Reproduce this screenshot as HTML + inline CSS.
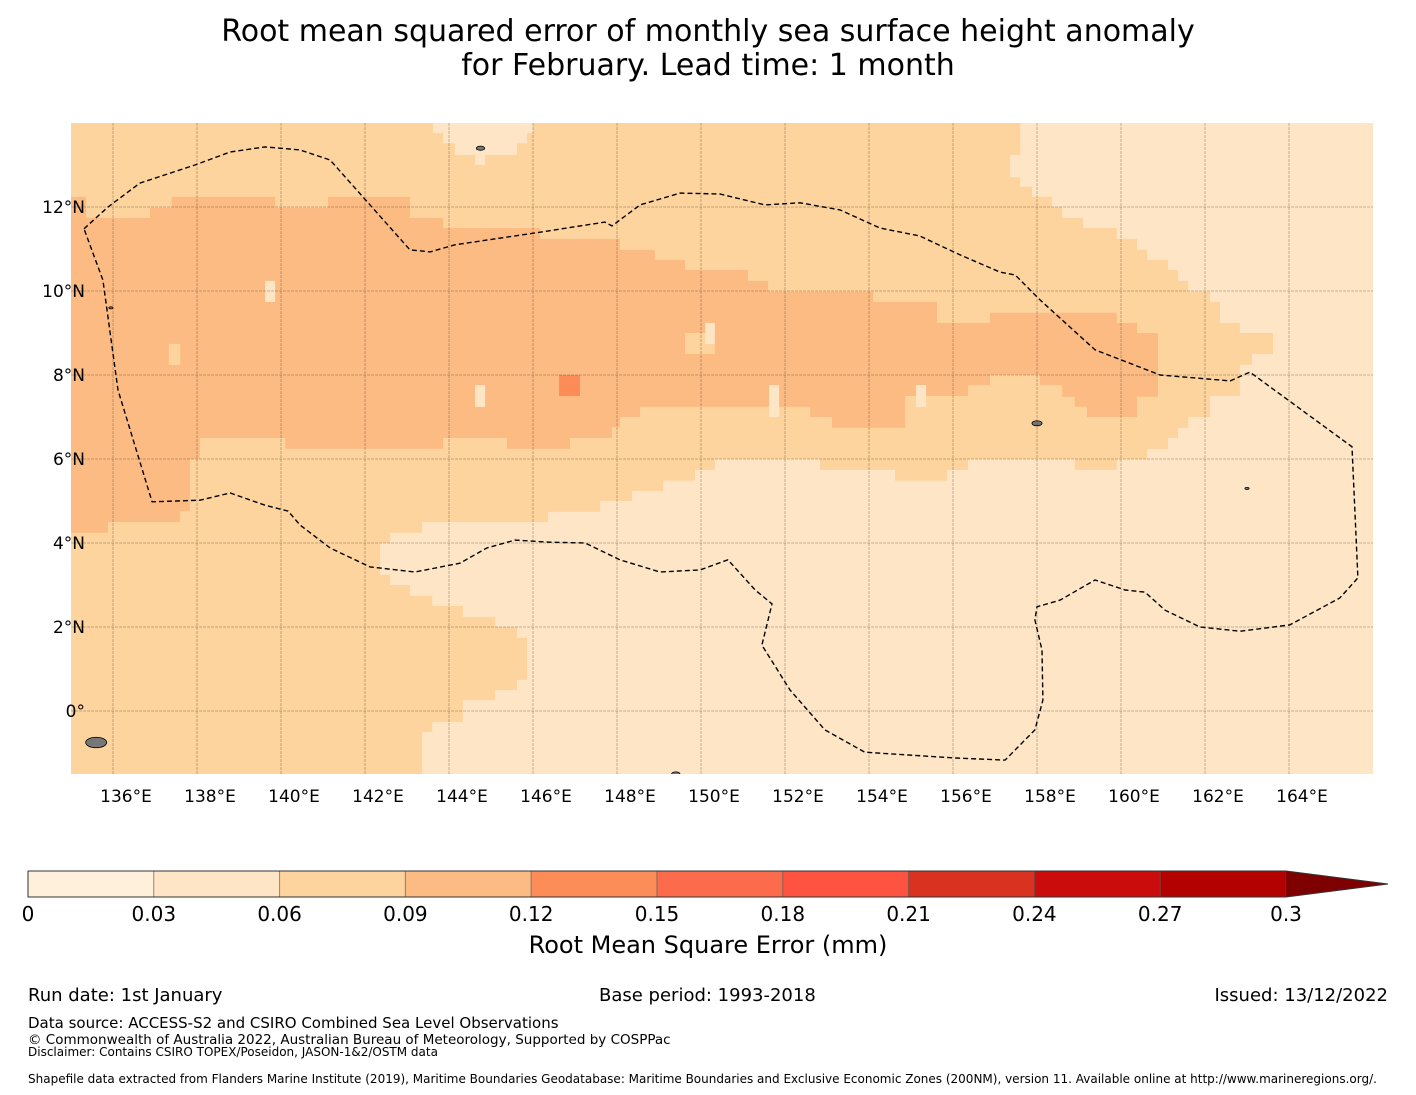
<!DOCTYPE html>
<html><head><meta charset="utf-8">
<style>
body{margin:0;background:#fff;font-family:"Liberation Sans","DejaVu Sans",sans-serif;}
#wrap{position:relative;width:1416px;height:1095px;overflow:hidden;}
.t{position:absolute;white-space:nowrap;color:#000;}
</style></head><body>
<div id="wrap">
<div class="t" style="left:0;width:1416px;text-align:center;top:15px;font-size:30px;line-height:34px;font-family:'DejaVu Sans',sans-serif;">Root mean squared error of monthly sea surface height anomaly<br>for February. Lead time: 1 month</div>
<svg id="map" width="1416" height="1095" style="position:absolute;left:0;top:0" xmlns="http://www.w3.org/2000/svg"></svg>
<div class="t" style="left:0;width:1416px;text-align:center;top:931px;font-size:24px;font-family:'DejaVu Sans',sans-serif;">Root Mean Square Error (mm)</div>
<div class="t" style="left:28px;top:985px;font-size:18px;font-family:'DejaVu Sans',sans-serif;">Run date: 1st January</div>
<div class="t" style="left:599px;top:985px;font-size:18px;font-family:'DejaVu Sans',sans-serif;">Base period: 1993-2018</div>
<div class="t" style="right:28px;top:985px;font-size:18px;font-family:'DejaVu Sans',sans-serif;">Issued: 13/12/2022</div>
<div class="t" style="left:28px;top:1014px;font-size:15px;font-family:'DejaVu Sans',sans-serif;">Data source: ACCESS-S2 and CSIRO Combined Sea Level Observations</div>
<div class="t" style="left:28px;top:1032px;font-size:13.5px;font-family:'DejaVu Sans',sans-serif;">© Commonwealth of Australia 2022, Australian Bureau of Meteorology, Supported by COSPPac</div>
<div class="t" style="left:28px;top:1045px;font-size:12px;font-family:'DejaVu Sans',sans-serif;">Disclaimer: Contains CSIRO TOPEX/Poseidon, JASON-1&amp;2/OSTM data</div>
<div class="t" style="left:28px;top:1072px;font-size:12px;font-family:'DejaVu Sans',sans-serif;">Shapefile data extracted from Flanders Marine Institute (2019), Maritime Boundaries Geodatabase: Maritime Boundaries and Exclusive Economic Zones (200NM), version 11. Available online at http://www.marineregions.org/.</div>
</div>
<script>
const binEdges=[0,0.03,0.06,0.09,0.12,0.15,0.18,0.21,0.24,0.27,0.3];
const binColors=['#fff0dc','#fee5c6','#fdd49e','#fdbb84','#fc8d59','#fc6b4c','#fe5340','#d93220','#cb0c0c','#b30000'];
const overColor='#7f0000';
const lonTicks=[136,138,140,142,144,146,148,150,152,154,156,158,160,162,164];
const latTicks=[12,10,8,6,4,2,0];
const latLabels=['12°N','10°N','8°N','6°N','4°N','2°N','0°'];
const backgroundValue=0.075;
const lightZone=[[157.6,14],[157.6,13.24],[157.36,13.24],[157.36,12.71],[157.6,12.71],[157.6,12.48],[157.88,12.48],[157.88,12.24],[158.36,12.24],[158.36,12],[158.6,12],[158.6,11.74],[159.1,11.74],[159.1,11.5],[159.9,11.5],[159.9,11.24],[160.38,11.24],[160.38,10.98],[160.62,10.98],[160.62,10.74],[161.12,10.74],[161.12,10.5],[161.36,10.5],[161.36,10.24],[161.6,10.24],[161.6,9.98],[162.12,9.98],[162.12,9.74],[162.36,9.74],[162.36,9.24],[162.83,9.24],[162.83,9],[163.62,9],[163.62,8.5],[163.12,8.5],[163.12,8.24],[162.83,8.24],[162.83,7.5],[162.12,7.5],[162.12,7],[161.6,7],[161.6,6.74],[161.36,6.74],[161.36,6.5],[161.12,6.5],[161.12,6.24],[160.62,6.24],[160.62,6],[159.9,6],[159.9,5.74],[158.9,5.74],[158.9,6],[156.36,6],[156.36,5.74],[155.86,5.74],[155.86,5.48],[154.62,5.48],[154.62,5.74],[152.83,5.74],[152.83,6],[150.33,6],[150.33,5.74],[149.86,5.74],[149.86,5.48],[149.1,5.48],[149.1,5.24],[148.36,5.24],[148.36,5],[147.6,5],[147.6,4.74],[146.36,4.74],[146.36,4.5],[143.36,4.5],[143.36,4.24],[142.6,4.24],[142.6,4],[142.36,4],[142.36,3.24],[142.6,3.24],[142.6,3],[143.07,3],[143.07,2.74],[143.6,2.74],[143.6,2.5],[144.33,2.5],[144.33,2.24],[145.1,2.24],[145.1,2],[145.62,2],[145.62,1.74],[145.86,1.74],[145.86,0.74],[145.62,0.74],[145.62,0.5],[145.1,0.5],[145.1,0.26],[144.33,0.26],[144.33,-0.26],[143.6,-0.26],[143.6,-0.5],[143.36,-0.5],[143.36,-1.5],[166,-1.5],[166,14]];
const lightZoneValue=0.045;
const topPatch=[[143.62,14],[146,14],[146,13.76],[145.86,13.76],[145.86,13.52],[145.62,13.52],[145.62,13.24],[144.86,13.24],[144.86,13],[144.62,13],[144.62,13.24],[144.14,13.24],[144.14,13.52],[143.86,13.52],[143.86,13.76],[143.62,13.76]];
const topPatchValue=0.045;
const darkZone=[[135,12.24],[135.36,12.24],[135.36,11.74],[136.88,11.74],[136.88,11.98],[137.4,11.98],[137.4,12.24],[139.86,12.24],[139.86,11.98],[141.12,11.98],[141.12,12.24],[143.07,12.24],[143.07,11.74],[143.86,11.74],[143.86,11.5],[146.17,11.5],[146.17,11.24],[148.07,11.24],[148.07,10.98],[148.9,10.98],[148.9,10.74],[149.62,10.74],[149.62,10.5],[151.12,10.5],[151.12,10.24],[151.6,10.24],[151.6,9.98],[154.1,9.98],[154.1,9.74],[155.62,9.74],[155.62,9.24],[156.88,9.24],[156.88,9.48],[159.9,9.48],[159.9,9.24],[160.38,9.24],[160.38,9],[160.88,9],[160.88,7.48],[160.38,7.48],[160.38,7],[159.19,7],[159.19,7.24],[158.9,7.24],[158.9,7.48],[158.6,7.48],[158.6,7.76],[158.07,7.76],[158.07,8],[156.88,8],[156.88,7.76],[156.36,7.76],[156.36,7.5],[154.86,7.5],[154.86,6.74],[153.12,6.74],[153.12,7],[152.6,7],[152.6,7.24],[148.55,7.24],[148.55,7],[148.07,7],[148.07,6.76],[147.88,6.76],[147.88,6.5],[146.88,6.5],[146.88,6.24],[145.38,6.24],[145.38,6.5],[143.86,6.5],[143.86,6.24],[140.1,6.24],[140.1,6.5],[138.07,6.5],[138.07,6],[137.83,6],[137.83,4.76],[137.6,4.76],[137.6,4.5],[135.88,4.5],[135.88,4.24],[135,4.24]];
const darkZoneValue=0.105;
const cellLon=[149.62,150.1,137.33,139.62,144.62,151.62,155.12,146.62,162.12];
const cellLat=[9.0,9.24,8.74,10.24,7.76,7.76,7.76,8.0,11.74];
const cellW=[0.71,0.23,0.27,0.24,0.24,0.24,0.24,0.5,0.24];
const cellH=[0.5,0.5,0.5,0.5,0.52,0.76,0.52,0.5,0.4];
const cellVal=[0.075,0.045,0.075,0.045,0.045,0.045,0.045,0.13,0.045];
const eez=[[135.31,11.48],[135.88,12.0],[136.64,12.57],[137.95,13.0],[138.79,13.31],[139.62,13.43],[140.45,13.36],[141.17,13.12],[143.07,10.98],[143.55,10.93],[144.14,11.1],[146.17,11.4],[147.71,11.64],[147.88,11.55],[148.55,12.05],[149.5,12.33],[150.45,12.31],[151.52,12.05],[152.36,12.1],[153.31,11.93],[154.26,11.5],[155.21,11.31],[156.17,10.86],[157.12,10.45],[157.48,10.38],[158.07,9.79],[159.38,8.6],[160.93,8.0],[162.6,7.86],[163.07,8.07],[165.5,6.29],[165.64,3.17],[165.21,2.69],[164.02,2.05],[162.83,1.9],[161.88,2.0],[161.05,2.4],[160.57,2.83],[160.1,2.88],[159.38,3.12],[158.55,2.64],[158.0,2.48],[157.95,2.17],[158.12,1.45],[158.14,0.26],[157.95,-0.45],[157.24,-1.17],[156.05,-1.12],[153.9,-0.98],[152.95,-0.45],[152.12,0.5],[151.45,1.57],[151.69,2.55],[151.29,2.88],[150.64,3.6],[149.98,3.36],[149.02,3.31],[148.07,3.6],[147.24,4.0],[146.4,4.02],[145.57,4.07],[144.9,3.88],[144.26,3.52],[143.19,3.31],[142.12,3.43],[141.17,3.88],[140.45,4.43],[140.17,4.76],[139.62,4.9],[138.79,5.19],[138.07,5.02],[136.93,4.98],[136.12,7.64],[135.76,10.26]];
const islandLon=[135.6,144.75,158.0,149.4,135.95,163.0];
const islandLat=[-0.75,13.4,6.85,-1.5,9.6,5.3];
const islandR=[0.25,0.1,0.12,0.1,0.05,0.05];

const X0=71,X1=1373,Y0=123,Y1=774,LON0=135,LAT0=14,PX=42;
const xs=lon=>X0+(lon-LON0)*PX;
const ys=lat=>Y0+(LAT0-lat)*PX;
function colorFor(v){for(let i=0;i<binColors.length;i++){if(v<binEdges[i+1])return binColors[i];}return overColor;}
const NS='http://www.w3.org/2000/svg';
const svg=document.getElementById('map');
function mk(tag,attrs,parent){const e=document.createElementNS(NS,tag);for(const k in attrs)e.setAttribute(k,attrs[k]);(parent||svg).appendChild(e);return e;}
const pts=arr=>arr.map(p=>xs(p[0]).toFixed(1)+','+ys(p[1]).toFixed(1)).join(' ');

const defs=mk('defs',{});
const cp=mk('clipPath',{id:'clip'},defs);
mk('rect',{x:X0,y:Y0,width:X1-X0,height:Y1-Y0},cp);
const g=mk('g',{'clip-path':'url(#clip)'});



const bg=mk('rect',{x:X0,y:Y0,width:X1-X0,height:Y1-Y0,fill:colorFor(backgroundValue)},g);


const lz=mk('polygon',{points:pts(lightZone),fill:colorFor(lightZoneValue)},g);


const tp=mk('polygon',{points:pts(topPatch),fill:colorFor(topPatchValue)},g);


const dz=mk('polygon',{points:pts(darkZone),fill:colorFor(darkZoneValue)},g);


for(let i=0;i<cellLon.length;i++){
  const r=mk('rect',{x:xs(cellLon[i]),y:ys(cellLat[i]),width:cellW[i]*PX,height:cellH[i]*PX,fill:colorFor(cellVal[i])},g);
  
  
}
for(let i=0;i<islandLon.length;i++){
  const c=mk('ellipse',{cx:xs(islandLon[i]),cy:ys(islandLat[i]),rx:islandR[i]*PX,ry:islandR[i]*PX*0.5,fill:'#777',stroke:'#000','stroke-width':0.8},g);
  
  
}
lonTicks.forEach(l=>{
  const ln=mk('line',{x1:xs(l),x2:xs(l),y1:Y0,y2:Y1,stroke:'#000','stroke-opacity':0.3,'stroke-width':0.8,'stroke-dasharray':'3,1'},g);
  
  
});
latTicks.forEach(l=>{
  const ln=mk('line',{x1:X0,x2:X1,y1:ys(l),y2:ys(l),stroke:'#000','stroke-opacity':0.3,'stroke-width':0.8,'stroke-dasharray':'3,1'},g);
  
  
});
const ez=mk('polygon',{points:pts(eez),fill:'none',stroke:'#000','stroke-width':1.4,'stroke-dasharray':'5,3'},g);



lonTicks.forEach(l=>{
  const t=mk('text',{x:xs(l)+13,y:802,'font-size':17,'text-anchor':'middle','font-family':'DejaVu Sans, sans-serif'});
  t.textContent=l+'°E';
  
  
});
latTicks.forEach((l,i)=>{
  const t=mk('text',{x:85,y:ys(l)+6,'font-size':17,'text-anchor':'end','font-family':'DejaVu Sans, sans-serif'});
  t.textContent=latLabels[i];
  
  
});

const CB0=28,CB1=1286,CBY=871,CBH=26;
const cbx=v=>CB0+(v-binEdges[0])/(binEdges[binEdges.length-1]-binEdges[0])*(CB1-CB0);
const cb=mk('g',{});


for(let i=0;i<binColors.length;i++){
  const r=mk('rect',{x:cbx(binEdges[i]),y:CBY,width:cbx(binEdges[i+1])-cbx(binEdges[i]),height:CBH,fill:binColors[i],stroke:'#555','stroke-opacity':0.5,'stroke-width':1},cb);
  
  
}
const ar=mk('polygon',{points:`${CB1},${CBY} 1388,${CBY+CBH/2} ${CB1},${CBY+CBH}`,fill:overColor},cb);


mk('polyline',{points:`${CB0},${CBY} ${CB1},${CBY} 1388,${CBY+CBH/2} ${CB1},${CBY+CBH} ${CB0},${CBY+CBH} ${CB0},${CBY}`,fill:'none',stroke:'#333','stroke-width':1},cb);
binEdges.forEach(v=>{
  const t=mk('text',{x:cbx(v),y:921,'font-size':20,'text-anchor':'middle','font-family':'DejaVu Sans, sans-serif'},cb);
  t.textContent=String(v);
  
  
});
</script>
</body></html>
